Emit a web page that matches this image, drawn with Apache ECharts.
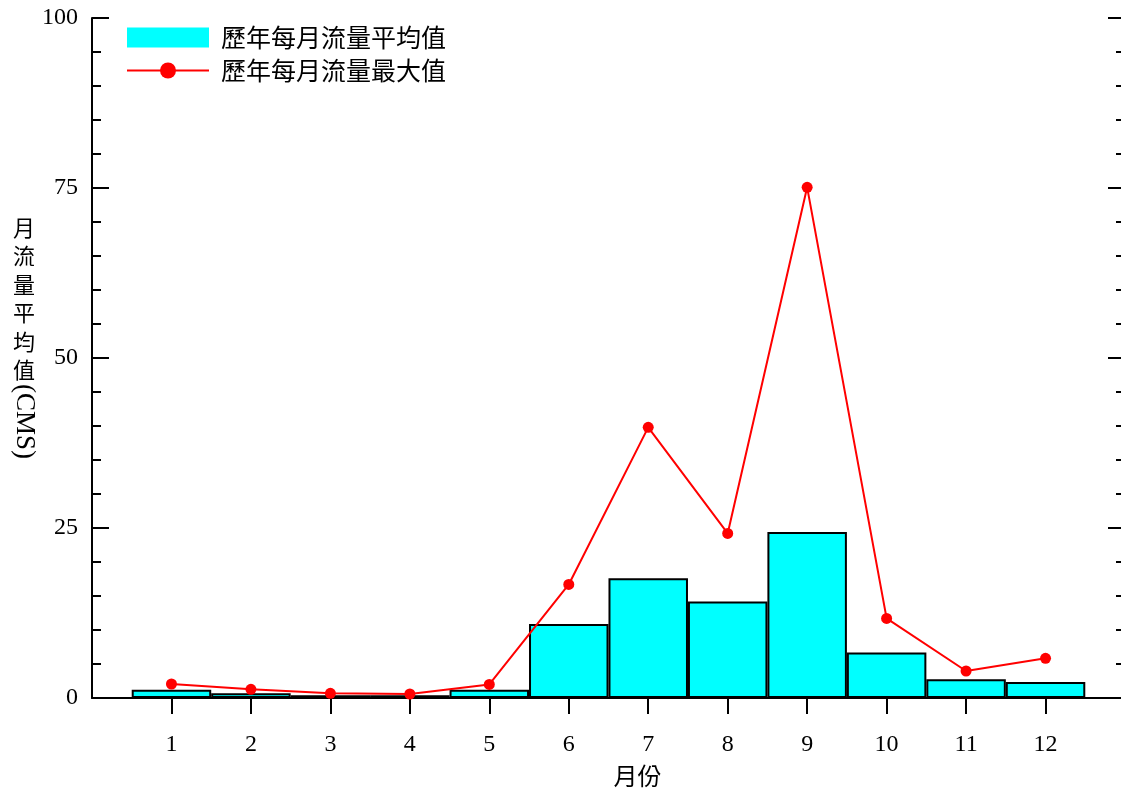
<!DOCTYPE html>
<html><head><meta charset="utf-8">
<script src="https://cdn.jsdelivr.net/npm/echarts@6/dist/echarts.min.js"></script>
<style>html,body{margin:0;padding:0;background:#fff}#c{width:1121px;height:791px}</style>
</head><body><div id="c"></div>
<script>
const months = [1,2,3,4,5,6,7,8,9,10,11,12];
const avgFlow = [1.2, 0.7, 0.4, 0.4, 1.2, 10.9, 17.6, 14.2, 24.4, 6.7, 2.75, 2.35];
const maxFlow = [2.06, 1.27, 0.69, 0.59, 2.0, 16.7, 39.8, 24.2, 75.1, 11.7, 3.97, 5.83];
const yTicks = [0, 25, 50, 75, 100];

const serif = '"Liberation Serif","DejaVu Serif",serif';
const cjk = '"Noto Sans CJK TC","Noto Sans CJK SC",sans-serif';

const chart = echarts.init(document.getElementById('c'), null, {renderer:'canvas'});
const yBase = {
  type:'value', min:yTicks[0], max:yTicks[yTicks.length-1], interval:25,
  splitLine:{show:false},
  axisLine:{show:true, lineStyle:{color:'#000', width:2}},
  axisTick:{show:true, inside:true, length:17, lineStyle:{color:'#000', width:2}},
  minorTick:{show:true, splitNumber:5, length:9, lineStyle:{color:'#000', width:2}},
};
chart.setOption({
  animation:false,
  backgroundColor:'#fff',
  grid:{left:92, top:18, right:-4, bottom:93, containLabel:false, outerBoundsMode:'none'},
  legend:{
    orient:'vertical', left:126, top:25, padding:0, itemWidth:82, itemHeight:20, itemGap:8,
    textStyle:{fontFamily:cjk, fontSize:25, color:'#000', padding:[0,0,0,7]},
    data:[
      {name:'歷年每月流量平均值', icon:'rect', itemStyle:{borderWidth:0, color:'#00FFFF'}},
      {name:'歷年每月流量最大值'}
    ]
  },
  xAxis:{
    type:'value', min:0, max:13, interval:1,
    name:'月份', nameLocation:'middle', nameGap:66,
    nameTextStyle:{fontFamily:cjk, fontSize:24, color:'#000', padding:[0,0,0,58]},
    splitLine:{show:false},
    axisLine:{show:true, onZero:false, lineStyle:{color:'#000', width:2}},
    axisTick:{show:true, inside:false, length:16, customValues:months, lineStyle:{color:'#000', width:2}},
    axisLabel:{margin:35, fontFamily:serif, fontSize:24, color:'#000', customValues:months}
  },
  yAxis:[
    Object.assign({}, yBase, {position:'left',
      axisLabel:{show:true, margin:14, fontFamily:serif, fontSize:24, color:'#000'}}),
    Object.assign({}, yBase, {position:'right', axisLabel:{show:false}})
  ],
  graphic:[
    {type:'text', left:13, top:213, style:{text:'月\n流\n量\n平\n均\n值', font:'22px ' + cjk, lineHeight:28.5, fill:'#000'}},
    {type:'text', x:38, y:384, rotation:-Math.PI/2, style:{text:'(CMS)', font:'27px ' + serif, fill:'#000'}}
  ],
  series:[
    {name:'歷年每月流量平均值', type:'bar', barWidth:79.5,
      data: months.map((m,i)=>[m, avgFlow[i]]),
      itemStyle:{color:'#00FFFF', borderColor:'#000', borderWidth:2}, z:2},
    {name:'歷年每月流量最大值', type:'line',
      data: months.map((m,i)=>[m, maxFlow[i]]),
      symbol:'circle', symbolSize:11,
      lineStyle:{color:'#FF0000', width:2}, itemStyle:{color:'#FF0000'}, z:3}
  ]
});
</script></body></html>
